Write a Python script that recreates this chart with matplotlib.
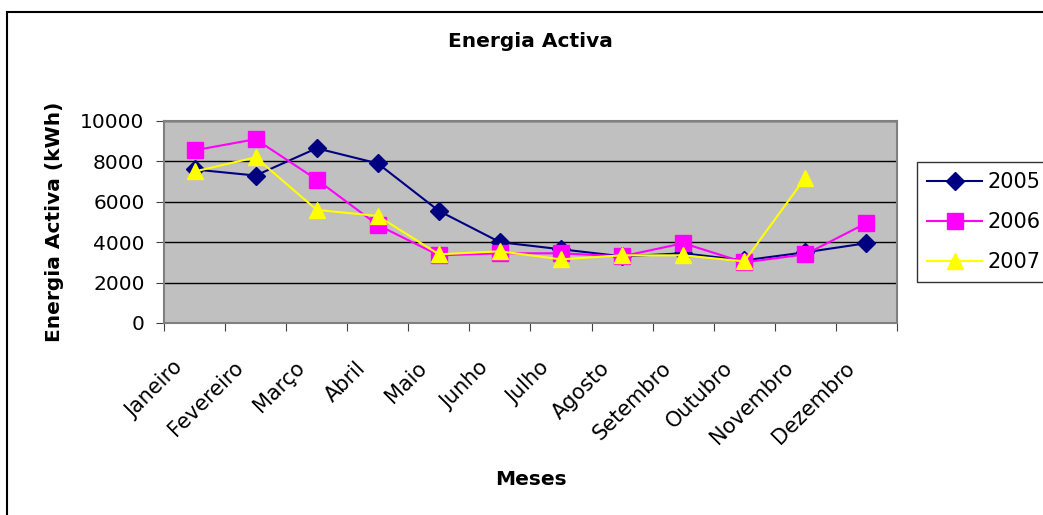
import matplotlib.pyplot as plt
import matplotlib.patches as patches
import matplotlib.transforms as mtransforms
import numpy as np

meses = ["Janeiro", "Fevereiro", "Março", "Abril", "Maio", "Junho", "Julho",
         "Agosto", "Setembro", "Outubro", "Novembro", "Dezembro"]
v2005 = [7600, 7300, 8650, 7900, 5550, 4000, 3650, 3300, 3450, 3100, 3500, 3950]
v2006 = [8550, 9100, 7100, 4850, 3350, 3450, 3450, 3300, 3950, 3000, 3400, 4950]
v2007 = [7500, 8200, 5600, 5300, 3400, 3550, 3150, 3350, 3350, 3050, 7200, None]

plt.rcParams['font.family'] = ['DejaVu Sans']

fig = plt.figure(figsize=(10.43, 5.15), dpi=100)
ax = fig.add_axes([164/1043, 1 - 323/515, (897-164)/1043, (323-121)/515])

x = np.arange(len(meses))
ax.plot(x, v2005, color='#000080', marker='D', markersize=9, lw=1.5, label='2005')
ax.plot(x, v2006, color='#FF00FF', marker='s', markersize=11, lw=1.5, label='2006')
y7 = [np.nan if v is None else v for v in v2007]
ax.plot(x, y7, color='#FFFF00', marker='^', markersize=12, lw=1.5, label='2007')

ax.set_facecolor('#C0C0C0')
ax.set_xlim(-0.5, len(meses) - 0.5)
ax.set_ylim(0, 10000)
ax.set_yticks(np.arange(0, 10001, 2000))
ax.yaxis.grid(True, color='black', lw=1)
ax.set_axisbelow(True)
for s in ax.spines.values():
    s.set_color('#808080')
    s.set_linewidth(1.5)

# month ticks sit between categories, labels at the centres
ax.set_xticks(np.arange(-0.5, len(meses), 1))
ax.set_xticklabels([])
ax.set_xticks(x, minor=True)
ax.set_xticklabels(meses, minor=True, rotation=45, ha='right', va='center',
                   rotation_mode='anchor', fontsize=15)
ax.tick_params(axis='x', which='minor', length=0, pad=30)
ax.tick_params(axis='x', which='major', length=6, direction='out', color='#404040')
ax.tick_params(axis='y', length=6, direction='out', labelsize=14.5, pad=8,
               color='#404040')
shift = mtransforms.ScaledTranslation(-15/100, 0, fig.dpi_scale_trans)
for lab in ax.get_xticklabels(minor=True):
    lab.set_transform(lab.get_transform() + shift)

ax.set_title('Energia Activa', fontsize=14.5, fontweight='bold', pad=53)
ax.set_xlabel('Meses', fontsize=14.5, fontweight='bold')
ax.xaxis.set_label_coords(0.5, -0.73)
ax.set_ylabel('Energia Activa (kWh)', fontsize=14.5, fontweight='bold')
ax.yaxis.set_label_coords(-0.137, 0.5)

leg = ax.legend(loc='upper left', bbox_to_anchor=(917/1043, 1 - 162/515),
                bbox_transform=fig.transFigure, fontsize=15, frameon=True,
                fancybox=False, edgecolor='black', borderaxespad=0,
                handlelength=2.6, labelspacing=0.95, handletextpad=0.3,
                borderpad=0.5)
leg.get_frame().set_linewidth(1)

fig.patches.append(patches.Rectangle((7/1043, -0.1), 1.1, 1 - 12/515 + 0.1,
                                     transform=fig.transFigure, fill=False,
                                     edgecolor='black', lw=1.5))

fig.savefig('out.png', dpi=100)
